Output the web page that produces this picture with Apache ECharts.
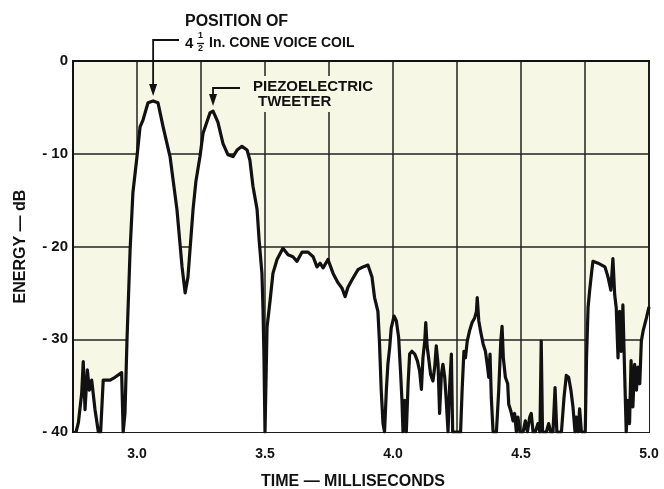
<!DOCTYPE html>
<html><head><meta charset="utf-8">
<script src="https://cdn.jsdelivr.net/npm/echarts@6/dist/echarts.min.js"></script>
<style>html,body{margin:0;padding:0;background:#fff}#c{width:664px;height:489px}</style>
</head><body><div id="c"></div>
<script>
const times = [
  2.762,2.771,2.784,2.790,2.797,2.806,2.814,2.823,2.836,2.849,
  2.858,2.868,2.895,2.914,2.940,2.946,2.953,2.961,2.973,2.984,
  3.000,3.012,3.023,3.043,3.063,3.082,3.102,3.129,3.156,3.176,
  3.188,3.199,3.219,3.230,3.246,3.258,3.285,3.297,3.316,3.336,
  3.355,3.375,3.391,3.410,3.430,3.441,3.453,3.469,3.477,3.488,
  3.492,3.496,3.500,3.508,3.520,3.531,3.547,3.570,3.590,3.609,
  3.625,3.645,3.668,3.688,3.703,3.715,3.727,3.746,3.766,3.785,
  3.801,3.813,3.824,3.844,3.863,3.883,3.902,3.918,3.928,3.941,
  3.947,3.954,3.961,3.967,3.974,3.980,3.987,3.993,4.004,4.013,
  4.022,4.030,4.035,4.039,4.046,4.052,4.059,4.065,4.074,4.085,
  4.095,4.104,4.111,4.117,4.124,4.128,4.133,4.139,4.147,4.156,
  4.163,4.169,4.176,4.182,4.189,4.195,4.202,4.208,4.215,4.221,
  4.228,4.233,4.241,4.264,4.270,4.277,4.283,4.290,4.299,4.309,
  4.319,4.326,4.329,4.335,4.342,4.352,4.361,4.368,4.374,4.379,
  4.384,4.391,4.404,4.413,4.421,4.426,4.431,4.439,4.448,4.452,
  4.460,4.469,4.475,4.482,4.488,4.496,4.508,4.517,4.525,4.534,
  4.540,4.547,4.556,4.566,4.574,4.579,4.584,4.599,4.608,4.616,
  4.625,4.633,4.640,4.658,4.668,4.677,4.686,4.695,4.703,4.711,
  4.716,4.723,4.729,4.736,4.751,4.756,4.762,4.768,4.777,4.781,
  4.801,4.828,4.840,4.851,4.859,4.866,4.872,4.879,4.885,4.892,
  4.898,4.905,4.911,4.918,4.924,4.930,4.937,4.944,4.951,4.957,
  4.964,4.970,4.977,4.990,5.0
];
const energy = [
  -40,-39,-35.8,-32.4,-37.6,-33.3,-35.5,-34.4,-37.6,-40,
  -40,-34.4,-34.4,-34.1,-33.6,-40,-38,-30,-20.4,-14.2,
  -10.3,-7.1,-6.4,-4.5,-4.3,-4.5,-7.1,-10.3,-16,-22.2,
  -25,-23.3,-16,-13,-10.3,-7.8,-5.6,-5.4,-6.6,-8.9,
  -10.1,-10.3,-9.6,-9.2,-9.6,-10.7,-13.5,-16,-19.3,-22.9,
  -26.5,-32,-40,-28.7,-25.8,-22.9,-21.4,-20.2,-20.9,-21.1,
  -21.6,-20.6,-20.6,-21.1,-22.2,-21.8,-22.3,-21.4,-22.9,-23.9,
  -24.5,-25.4,-24.4,-23.4,-22.5,-22.2,-22.0,-23.3,-25.5,-27,
  -30.2,-35.5,-39.1,-40,-35.5,-32.7,-30.9,-28.8,-27.5,-28,
  -29.8,-33.8,-36.6,-40,-36.6,-40,-34.8,-31.6,-31.3,-31.6,
  -32.3,-33.4,-35.4,-32,-30.2,-28.2,-30.7,-32,-33.8,-34.5,
  -33,-30.7,-32.7,-38,-33.8,-32.7,-34.1,-36.6,-40,-35.2,
  -31.6,-40,-40,-40,-35.5,-31.3,-32,-30.2,-29.1,-28.2,
  -27.7,-27,-25.5,-28,-29.1,-30.5,-31.3,-32.7,-34.1,-31.6,
  -36.3,-40,-40,-35.5,-30.2,-28.6,-32,-34.1,-34.8,-37,
  -37.7,-38.8,-38,-40,-38.4,-40,-40,-38.8,-40,-38.4,
  -38,-40,-40,-39.1,-40,-30.2,-40,-40,-39.1,-40,
  -40,-35.2,-40,-40,-36.3,-33.9,-34.1,-35.5,-37.3,-40,
  -38.4,-40,-37.5,-40,-40,-32,-26.6,-24.8,-22.5,-21.6,
  -21.8,-22.2,-23.3,-24.7,-21.3,-25.2,-26.6,-32,-27,-31.3,
  -26.3,-33.8,-40,-36.6,-39.1,-32.3,-37.3,-32.7,-35.5,-33,
  -34.8,-30.2,-29.1,-27.7,-26.5
];
const xTickLabels = [3.0, 3.5, 4.0, 4.5, 5.0];
const yTicks = [0, -10, -20, -30, -40];
const annotations = [
  {x: 3.063, y: -4.3, lines: ['POSITION OF', 'In. CONE VOICE COIL']},
  {x: 3.297, y: -5.4, lines: ['PIEZOELECTRIC', 'TWEETER']}
];

const FONT = '"Liberation Sans", Arial, sans-serif';
const cream = '#f7f7e6';
const chart = echarts.init(document.getElementById('c'), null, {renderer: 'canvas'});
const data = times.map((t, i) => [t, energy[i]]);

chart.setOption({
  animation: false,
  backgroundColor: '#ffffff',
  grid: {left: 73, right: 15, top: 61, bottom: 57, outerBoundsMode: 'none', containLabel: false,
    show: true, backgroundColor: cream, borderColor: '#111', borderWidth: 2},
  xAxis: {
    type: 'value', min: 2.75, max: 5.0, interval: 0.25,
    name: 'TIME — MILLISECONDS', nameLocation: 'middle', nameGap: 42,
    nameTextStyle: {fontFamily: FONT, fontWeight: 'bold', fontSize: 16, color: '#111', padding: [0, 16, 0, 0]},
    axisLine: {show: true, lineStyle: {color: '#111', width: 2}},
    axisTick: {show: false},
    axisLabel: {fontFamily: FONT, fontWeight: 'bold', fontSize: 14, color: '#111', margin: 15,
      formatter: v => xTickLabels.some(t => Math.abs(t - v) < 1e-6) ? v.toFixed(1) : ''},
    splitLine: {show: true, lineStyle: {color: '#222', width: 1.5}}
  },
  yAxis: {
    type: 'value', min: -40, max: 0, interval: 10,
    name: 'ENERGY — dB', nameLocation: 'middle', nameGap: 44,
    nameTextStyle: {fontFamily: FONT, fontWeight: 'bold', fontSize: 16, color: '#111'},
    axisLine: {show: true, lineStyle: {color: '#111', width: 2}},
    axisTick: {show: false},
    axisLabel: {fontFamily: FONT, fontWeight: 'bold', fontSize: 15, color: '#111', margin: 5,
      formatter: v => yTicks.includes(v) ? (v < 0 ? '- ' + Math.abs(v) : String(v)) : ''},
    splitLine: {show: true, lineStyle: {color: '#222', width: 1.5}}
  },
  series: [{
    type: 'line', data: data, symbol: 'none', smooth: false,
    lineStyle: {color: '#111', width: 3.2, join: 'round'},
    areaStyle: {color: '#ffffff', opacity: 1, origin: 'start'},
    z: 3
  }]
});

// annotations anchored to data peaks
const p1 = chart.convertToPixel({gridIndex: 0}, [annotations[0].x, annotations[0].y]);
const p2 = chart.convertToPixel({gridIndex: 0}, [annotations[1].x, annotations[1].y]);
const tf = {fontFamily: FONT, fontWeight: 'bold', fill: '#111'};
const g = [];
function txt(left, top, text, size) {
  g.push({type: 'text', left: left, top: top, style: Object.assign({}, tf, {text: text, fontSize: size}), z: 10});
}
function arrow(px, py, leadY, fromX) {
  const tipY = py - 5;
  g.push({type: 'polyline', shape: {points: [[fromX, leadY], [px, leadY], [px, tipY - 8]]}, style: {stroke: '#111', lineWidth: 1.8, fill: null}, z: 10});
  g.push({type: 'polygon', shape: {points: [[px - 4, tipY - 12], [px + 4, tipY - 12], [px, tipY]]}, style: {fill: '#111'}, z: 10});
}
// label 1
txt(185, 14, annotations[0].lines[0], 16);
txt(185, 36, '4', 15);
txt(198, 31, '1', 9);
g.push({type: 'line', shape: {x1: 197, y1: 43.5, x2: 204, y2: 43.5}, style: {stroke: '#111', lineWidth: 1.3}, z: 10});
txt(198, 44, '2', 9);
txt(209, 36, annotations[0].lines[1], 14);
arrow(p1[0], p1[1], 40, 179);
// label 2
g.push({type: 'rect', shape: {x: 248, y: 76, width: 135, height: 36}, style: {fill: cream}, z: 9});
txt(253, 79, annotations[1].lines[0], 15);
txt(258, 94, annotations[1].lines[1], 15);
arrow(p2[0], p2[1], 88, 240);
chart.setOption({graphic: g});
</script>
</body></html>
